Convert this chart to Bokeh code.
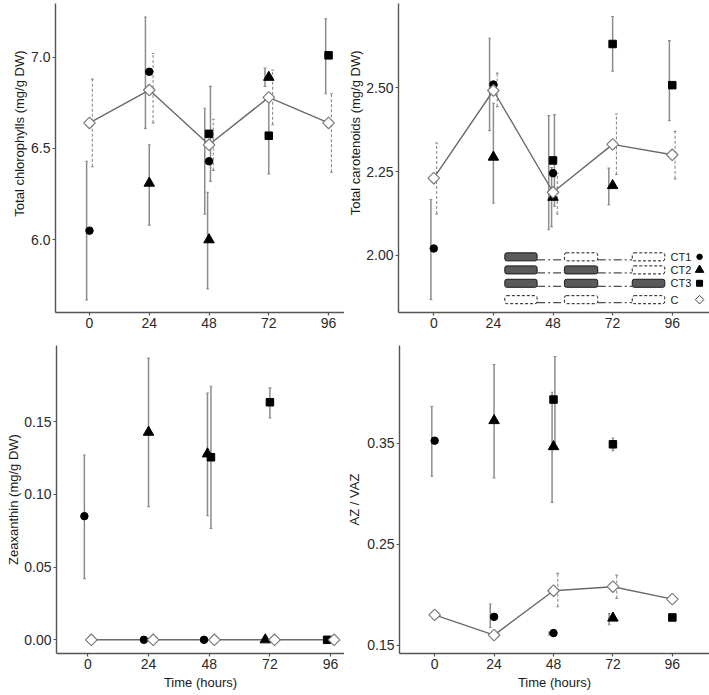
import numpy as np
from bokeh.plotting import figure
from bokeh.layouts import column, row
from bokeh.models import Range1d, FixedTicker, BoxAnnotation, Title
from bokeh.core.properties import value
from bokeh.embed import file_html
from bokeh.resources import INLINE

# ---------------- data ----------------
time_ticks = [0, 24, 48, 72, 96]
series_names = ["CT1", "CT2", "CT3", "C"]
time_ct1 = [0, 24, 48]
time_ct2 = [24, 48, 72]
time_ct3 = [48, 72, 96]
time_c = [0, 24, 48, 72, 96]

# Total chlorophylls (mg/g DW)
chl_ct1 = [6.05, 6.92, 6.43]
chl_ct1_lo = [5.67, 6.61, 6.14]
chl_ct1_hi = [6.43, 7.22, 6.72]
chl_ct2 = [6.31, 6.00, 6.89]
chl_ct2_lo = [6.08, 5.73, 6.84]
chl_ct2_hi = [6.52, 6.26, 6.94]
chl_ct3 = [6.58, 6.57, 7.01]
chl_ct3_lo = [6.32, 6.36, 6.80]
chl_ct3_hi = [6.84, 6.78, 7.21]
chl_c = [6.64, 6.82, 6.52, 6.78, 6.64]
chl_c_lo = [6.40, 6.64, 6.38, 6.63, 6.37]
chl_c_hi = [6.88, 7.02, 6.66, 6.93, 6.80]
chl_ticks = [6.0, 6.5, 7.0]

# Total carotenoids (mg/g DW)
car_ct1 = [2.020, 2.510, 2.245]
car_ct1_lo = [1.868, 2.372, 2.076]
car_ct1_hi = [2.166, 2.648, 2.417]
car_ct2 = [2.293, 2.173, 2.208]
car_ct2_lo = [2.155, 2.084, 2.151]
car_ct2_hi = [2.454, 2.262, 2.260]
car_ct3 = [2.283, 2.631, 2.508]
car_ct3_lo = [2.146, 2.550, 2.402]
car_ct3_hi = [2.420, 2.713, 2.641]
car_c = [2.230, 2.492, 2.188, 2.331, 2.300]
car_c_lo = [2.123, 2.444, 2.123, 2.241, 2.228]
car_c_hi = [2.335, 2.544, 2.245, 2.422, 2.370]
car_ticks = [2.00, 2.25, 2.50]

# Zeaxanthin (mg/g DW)
zea_ct1 = [0.085, 0.0, 0.0]
zea_ct1_lo = [0.042, 0.0, 0.0]
zea_ct1_hi = [0.127, 0.0, 0.0]
zea_ct2 = [0.1427, 0.1278, 0.0]
zea_ct2_lo = [0.0915, 0.0853, 0.0]
zea_ct2_hi = [0.1936, 0.1697, 0.0]
zea_ct3 = [0.1255, 0.1633, 0.0]
zea_ct3_lo = [0.0766, 0.1525, 0.0]
zea_ct3_hi = [0.1743, 0.1732, 0.0]
zea_c = [0.0, 0.0, 0.0, 0.0, 0.0]
zea_c_lo = [0.0, 0.0, 0.0, 0.0, 0.0]
zea_c_hi = [0.0, 0.0, 0.0, 0.0, 0.0]
zea_ticks = [0.00, 0.05, 0.10, 0.15]

# AZ / VAZ
az_ct1 = [0.3526, 0.1780, 0.1619]
az_ct1_lo = [0.3173, 0.1675, 0.1600]
az_ct1_hi = [0.3864, 0.1907, 0.1630]
az_ct2 = [0.3725, 0.3467, 0.1768]
az_ct2_lo = [0.3156, 0.2915, 0.1702]
az_ct2_hi = [0.4280, 0.4006, 0.1814]
az_ct3 = [0.3933, 0.3490, 0.1774]
az_ct3_lo = [0.3510, 0.3427, 0.1760]
az_ct3_hi = [0.4360, 0.3553, 0.1790]
az_c = [0.1800, 0.1599, 0.2039, 0.2079, 0.1956]
az_c_lo = [0.1780, 0.1580, 0.1880, 0.1963, 0.1945]
az_c_hi = [0.1820, 0.1620, 0.2211, 0.2194, 0.1967]
az_ticks = [0.15, 0.25, 0.35]

FONT = "Liberation Sans"
AXIS_COL = "#555555"
BAR_COL = "#8c8c8c"
LINE_COL = "#6a6a6a"
TITLE_SIZE = "13px"


def dodge_offsets(times_list, width):
    """ggplot-like position_dodge: offsets per series per time point."""
    offs = []
    for si, ts in enumerate(times_list):
        o = []
        for t in ts:
            present = [k for k, tt in enumerate(times_list) if t in tt]
            n = len(present)
            k = present.index(si)
            o.append(width * ((k + 0.5) / n - 0.5))
        offs.append(o)
    return offs


def make_fig(width, height, xr, yr, yticks, fmt, ylabel, xlabel,
             mb_left, mb_top, mb_bottom, label_standoff, title_offset=None):
    p = figure(width=width, height=height, x_range=Range1d(*xr), y_range=Range1d(*yr),
               output_backend="svg", toolbar_location=None, title=None,
               min_border_left=mb_left, min_border_right=0,
               min_border_top=mb_top, min_border_bottom=mb_bottom)
    p.outline_line_color = None
    p.xgrid.visible = False
    p.ygrid.visible = False
    p.background_fill_color = "white"
    p.border_fill_color = "white"
    p.xaxis.ticker = FixedTicker(ticks=time_ticks)
    p.yaxis.ticker = FixedTicker(ticks=yticks)
    p.yaxis.major_label_overrides = {t: fmt.format(t) for t in yticks}
    p.xaxis.major_label_overrides = {t: str(t) for t in time_ticks}
    for ax in (p.xaxis[0], p.yaxis[0]):
        ax.axis_line_color = AXIS_COL
        ax.axis_line_width = 1.4
        ax.major_tick_line_color = AXIS_COL
        ax.major_tick_line_width = 1.2
        ax.major_tick_out = 3
        ax.major_tick_in = 0
        ax.minor_tick_line_color = None
        ax.major_label_text_font = FONT
        ax.major_label_text_font_size = "14px"
        ax.major_label_text_color = "#2a2a2a"
        ax.major_label_standoff = 2
        ax.axis_label_text_font = FONT
        ax.axis_label_text_font_size = TITLE_SIZE
        ax.axis_label_text_font_style = "normal"
        ax.axis_label_text_color = "#1a1a1a"
    if title_offset is None:
        p.yaxis.axis_label = ylabel
        p.yaxis.axis_label_standoff = label_standoff
    else:
        t = Title(text=ylabel, align="right", offset=title_offset, standoff=label_standoff,
                  text_font=FONT, text_font_size=TITLE_SIZE, text_font_style="normal",
                  text_color="#1a1a1a")
        p.add_layout(t, "left")
    if xlabel:
        p.xaxis.axis_label = xlabel
        p.xaxis.axis_label_standoff = 3
    p.yaxis.major_label_orientation = "horizontal"
    return p


def draw_panel(p, means, los, his, bar_dodge, point_dodge):
    times_list = [time_ct1, time_ct2, time_ct3, time_c]
    bar_off = dodge_offsets(times_list, bar_dodge)
    pt_off = dodge_offsets(times_list, point_dodge)
    cap = 0.55
    # error bars
    for si in range(4):
        xs = np.array(times_list[si], dtype=float) + np.array(bar_off[si])
        lo = np.array(los[si])
        hi = np.array(his[si])
        keep = hi > lo
        xs, lo, hi = xs[keep], lo[keep], hi[keep]
        if len(xs) == 0:
            continue
        dash = "3 2" if si == 3 else "solid"
        lw = 1.1 if si == 3 else 1.5
        p.segment(x0=xs, y0=lo, x1=xs, y1=hi, line_color=BAR_COL, line_width=lw, line_dash=dash)
        p.segment(x0=xs - cap, y0=lo, x1=xs + cap, y1=lo, line_color=BAR_COL, line_width=1.1)
        p.segment(x0=xs - cap, y0=hi, x1=xs + cap, y1=hi, line_color=BAR_COL, line_width=1.1)
    # control line
    cx = np.array(time_c, dtype=float) + np.array(pt_off[3])
    p.line(cx, means[3], line_color=LINE_COL, line_width=1.4)
    # points
    styles = [dict(marker="circle", size=7.5),
              dict(marker="triangle", size=10.5),
              dict(marker="square", size=7.5)]
    for si in range(3):
        xs = np.array(times_list[si], dtype=float) + np.array(pt_off[si])
        p.scatter(xs, means[si], fill_color="black", line_color="black", **styles[si])
    p.scatter(cx, means[3], marker="square", angle=np.pi / 4, size=8.2,
              fill_color="white", line_color="#7a7a7a", line_width=1.2)


# ---------------- panels ----------------
p1 = make_fig(344, 340, (-13.65, 102.4), (5.6017, 7.294), chl_ticks, "{:.1f}",
              "Total chlorophylls (mg/g DW)", None, 55, 3, 28, 4, title_offset=47)
draw_panel(p1, [chl_ct1, chl_ct2, chl_ct3, chl_c],
           [chl_ct1_lo, chl_ct2_lo, chl_ct3_lo, chl_c_lo],
           [chl_ct1_hi, chl_ct2_hi, chl_ct3_hi, chl_c_hi], 4.6, 0.0)

p2 = make_fig(365, 340, (-14.2, 111.0), (1.8287, 2.752), car_ticks, "{:.2f}",
              "Total carotenoids (mg/g DW)", None, 54, 3, 28, 2, title_offset=47)
draw_panel(p2, [car_ct1, car_ct2, car_ct3, car_c],
           [car_ct1_lo, car_ct2_lo, car_ct3_lo, car_c_lo],
           [car_ct1_hi, car_ct2_hi, car_ct3_hi, car_c_hi], 4.6, 0.0)

# legend schematic (panel 2)
leg_rows = [1.995, 1.956, 1.916, 1.867]
leg_boxes = [(28.6, 41.6), (52.6, 66.0), (79.9, 93.0)]
leg_fill = [[True, False, False], [True, True, False], [True, True, True], [False, False, False]]
hh = 0.012
for ri, yv in enumerate(leg_rows):
    for (l0, r0), (l1, r1) in zip(leg_boxes[:-1], leg_boxes[1:]):
        p2.line([r0, l1], [yv - hh * 0.75, yv - hh * 0.75], line_color="#222222", line_width=1,
                line_dash="8 3 2 3")
    for bi, (l, r) in enumerate(leg_boxes):
        if leg_fill[ri][bi]:
            b = BoxAnnotation(left=l, right=r, bottom=yv - hh, top=yv + hh, fill_color="#5a5a5a",
                              fill_alpha=1, line_color="#1a1a1a", line_alpha=1, line_width=1,
                              border_radius=2)
        else:
            b = BoxAnnotation(left=l, right=r, bottom=yv - hh, top=yv + hh, fill_color="white",
                              fill_alpha=1, line_color="#1a1a1a", line_alpha=1, line_width=1,
                              line_dash="3 2", border_radius=2)
        p2.add_layout(b)
p2.text(x=[95.3] * 4, y=leg_rows, text=series_names, text_font=value(FONT),
        text_font_size="11px", text_baseline="middle", text_color="#1a1a1a")
leg_mx = [107.0]
p2.scatter(leg_mx, leg_rows[0:1], marker="circle", size=5.5, color="black")
p2.scatter(leg_mx, leg_rows[1:2], marker="triangle", size=8.5, color="black")
p2.scatter(leg_mx, leg_rows[2:3], marker="square", size=6, color="black")
p2.scatter(leg_mx, leg_rows[3:4], marker="square", angle=np.pi / 4, size=6,
           fill_color="white", line_color="#444444", line_width=1)

p3 = make_fig(344, 355, (-12.4, 101.5), (-0.0094, 0.2023), zea_ticks, "{:.2f}",
              "Zeaxanthin (mg/g DW)", "Time (hours)", 56, 5, 42, 0)
draw_panel(p3, [zea_ct1, zea_ct2, zea_ct3, zea_c],
           [zea_ct1_lo, zea_ct2_lo, zea_ct3_lo, zea_c_lo],
           [zea_ct1_hi, zea_ct2_hi, zea_ct3_hi, zea_c_hi], 5.5, 5.5)

p4 = make_fig(365, 355, (-14.2, 111.0), (0.1417, 0.4469), az_ticks, "{:.2f}",
              "AZ / VAZ", "Time (hours)", 54, 5, 42, 2)
draw_panel(p4, [az_ct1, az_ct2, az_ct3, az_c],
           [az_ct1_lo, az_ct2_lo, az_ct3_lo, az_c_lo],
           [az_ct1_hi, az_ct2_hi, az_ct3_hi, az_c_hi], 4.6, 0.0)

layout = column(row(p1, p2), row(p3, p4))
open("out.html", "w").write(file_html(layout, INLINE))
